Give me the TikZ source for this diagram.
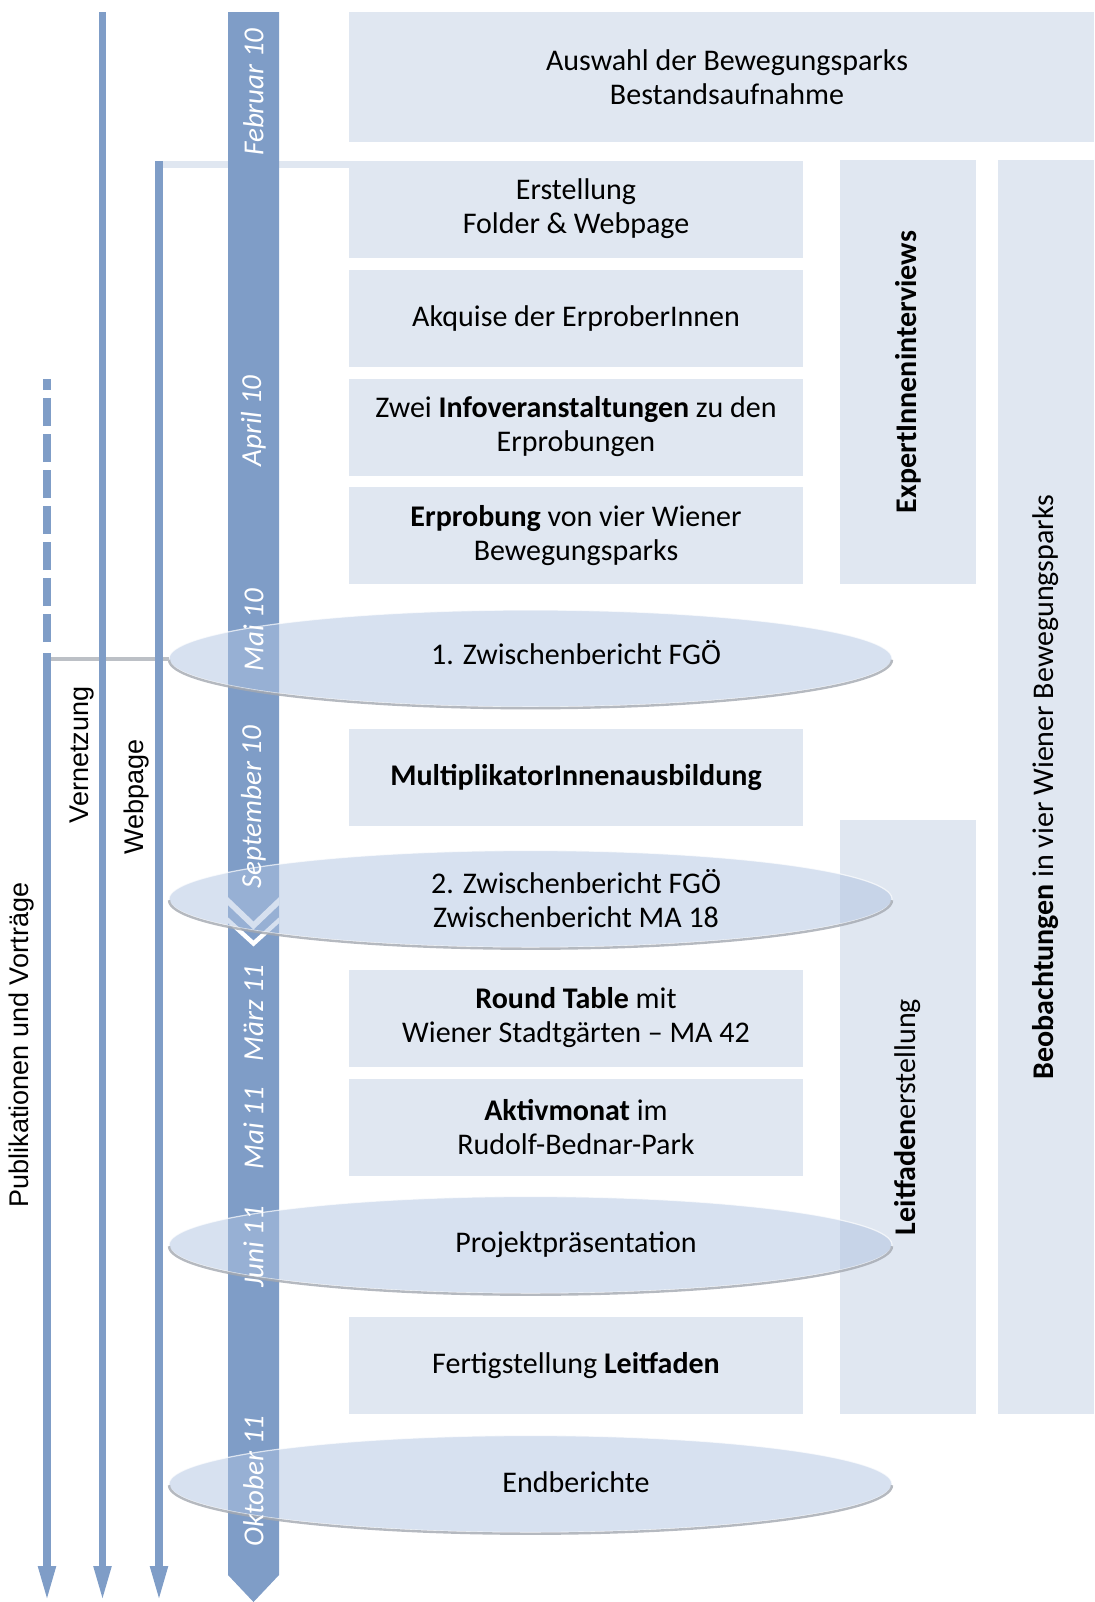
\documentclass[tikz,border=0pt]{standalone}
\usepackage{fontspec}
\setmainfont{Carlito}
\newfontfamily\arialfont{Liberation Sans}
\usetikzlibrary{arrows.meta,shapes.geometric}
\definecolor{LineBlue}{HTML}{7F9DC7}
\definecolor{BoxPale}{HTML}{E0E7F1}
\definecolor{MileFill}{HTML}{AFC3E1}
\definecolor{MileEdge}{HTML}{A3A8B0}
\definecolor{LinkGray}{HTML}{BCC0C6}

\tikzset{
  task/.style={fill=BoxPale, inner sep=0pt, minimum width=227pt, minimum height=48.5pt,
    align=center, font=\fontsize{15}{17}\selectfont},
  tasktext/.style={align=center, font=\fontsize{15}{17}\selectfont},
  sidebox/.style={fill=BoxPale, inner sep=0pt, rotate=90, align=center,
    font=\fontsize{15}{17}\selectfont},
  milestone/.style={ellipse, fill=MileFill, fill opacity=0.5, draw=white, draw opacity=0.7,
    line width=0.6pt, inner sep=0pt, outer sep=0pt, minimum width=361.5pt, minimum height=48.5pt},
  mileshadow/.style={MileEdge, line width=1.2pt, opacity=0.8},
  month/.style={rotate=90, text=white, font=\fontsize{14.5}{17}\selectfont\itshape},
  track/.style={LineBlue, line width=3.75pt, -{Triangle[width=8pt,length=18pt]}},
  sidelabel/.style={rotate=90, font=\arialfont\fontsize{13.5}{16}\selectfont},
}

\begin{document}
\begin{tikzpicture}[x=0.5pt,y=0.5pt]
  \useasboundingbox (0,0) rectangle (1094,-1602);
  \def\mile#1#2#3#4{
    \node[milestone] (#1) at (530.5,-#2) {};
    \draw[mileshadow] ([yshift=-0.6pt]#1.west) arc[start angle=180,end angle=360,x radius=361.5,y radius=48.5];
    \node[tasktext] (#1-t) at (576,-#3) {#4};
  }

  % work packages
  \node[task, minimum width=372.5pt, minimum height=65pt] (auswahl) at (721.5,-77) {};
  \node[tasktext] (auswahl-t) at (727,-77) {Auswahl der Bewegungsparks\\Bestandsaufnahme};
  \node[task] (erst) at (576,-209) {Erstellung\\Folder \& Webpage};
  \node[task] (akq) at (576,-318.5) {Akquise der ErproberInnen};
  \node[task] (info) at (576,-427) {Zwei \textbf{Infoveranstaltungen} zu den\\Erprobungen};
  \node[task] (erpr) at (576,-535.5) {\textbf{Erprobung} von vier Wiener\\Bewegungsparks};
  \node[task] (multi) at (576,-777.5) {\textbf{MultiplikatorInnenausbildung}};
  \node[task] (round) at (576,-1018) {\textbf{Round Table} mit\\Wiener Stadtgärten -- MA 42};
  \node[task] (aktiv) at (576,-1127.5) {\textbf{Aktivmonat} im\\Rudolf-Bednar-Park};
  \node[task] (fertig) at (576,-1365.5) {Fertigstellung \textbf{Leitfaden}};

  % long running tasks
  \node[sidebox, minimum width=212pt, minimum height=68pt] (expert) at (908,-372)
    {\textbf{ExpertInneninterviews}};
  \node[sidebox, minimum width=297pt, minimum height=68pt] (leitf) at (908,-1117)
    {\textbf{Leitfaden}erstellung};
  \node[sidebox, minimum width=627pt, minimum height=48pt] (beob) at (1046,-787)
    {\textbf{Beobachtungen} in vier Wiener Bewegungsparks};

  % webpage feeds the folder
  \coordinate (webknee) at (159,-164.5);
  \draw[BoxPale, line width=3.5pt] (webknee) -- (webknee -| erst.west);

  % time line
  \fill[LineBlue] (228,-12) -- (279,-12) -- (279,-1575) -- (253.5,-1602) -- (228,-1575) -- cycle;
  \begin{scope}
    \clip (228,-12) rectangle (279,-1602);
    \draw[white, line width=2.9pt] (220,-893.5) -- (253.5,-925.5) -- (287,-893.5);
    \draw[white, line width=2.2pt] (220,-913) -- (253.5,-943.5) -- (287,-913);
  \end{scope}

  % reports
  \mile{zb1}{658.5}{653}{1. Zwischenbericht FGÖ}
  \mile{zb2}{899}{899}{2. Zwischenbericht FGÖ\\Zwischenbericht MA 18}
  \mile{praes}{1245}{1245}{Projektpräsentation}
  \mile{endb}{1484}{1482}{Endberichte}

  % accompanying tracks
  \coordinate (pub-dash) at (47,-379);
  \coordinate (pub-top) at (47,-653);
  \coordinate (pub-end) at (47,-1602);
  \coordinate (netz-top) at (102.5,-12);
  \coordinate (netz-end) at (102.5,-1602);
  \coordinate (web-top) at (159,-161);
  \coordinate (web-end) at (159,-1602);
  \draw[LinkGray, line width=2pt] (pub-top |- zb1.west) -- (zb1.west);
  \draw[LineBlue, line width=3.75pt, dash pattern=on 14pt off 4pt] ([yshift=5.5pt]pub-top) -- (pub-dash);
  \draw[track] (pub-top) -- (pub-end);
  \draw[track] (netz-top) -- (netz-end);
  \draw[track] (web-top) -- (web-end);

  \node[sidelabel] (pub-l) at (22,-1045) {Publikationen und Vorträge};
  \node[sidelabel] (netz-l) at (82,-755) {Vernetzung};
  \node[sidelabel] (web-l) at (137,-797) {Webpage};

  % months
  \node[month] (m1) at (253.5,-92) {Februar 10};
  \node[month] (m2) at (253.5,-421) {April 10};
  \node[month] (m3) at (253.5,-630) {Mai 10};
  \node[month] (m4) at (253.5,-807) {September 10};
  \node[month] (m5) at (253.5,-1013) {März 11};
  \node[month] (m6) at (253.5,-1128) {Mai 11};
  \node[month] (m7) at (253.5,-1247) {Juni 11};
  \node[month] (m8) at (253.5,-1481) {Oktober 11};
\end{tikzpicture}
\end{document}
